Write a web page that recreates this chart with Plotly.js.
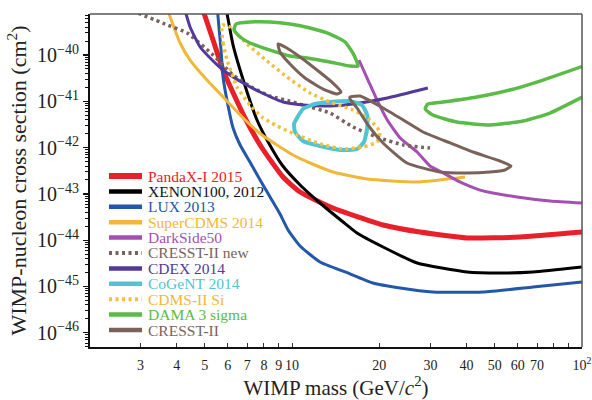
<!DOCTYPE html>
<html>
<head>
<meta charset="utf-8">
<script src="https://cdn.plot.ly/plotly-3.0.1.min.js"></script>
<style>html,body{margin:0;padding:0;background:#fff}#chart{width:592px;height:400px}</style>
</head>
<body>
<div id="chart"></div>
<script>
// ---- Data (WIMP mass in GeV/c^2, cross section in cm^2) ----
const seriesNames = ["PandaX-I 2015","XENON100, 2012","LUX 2013","SuperCDMS 2014","DarkSide50","CRESST-II new","CDEX 2014","CoGeNT 2014","CDMS-II Si","DAMA 3 sigma","CRESST-II"];

const pandaxMass  = [4.90, 5.34, 5.78, 6.36, 6.94, 7.88, 9.31, 10.66, 13.84, 20.6, 27.6, 40.1, 61.1, 100];
const pandaxSigma = [1.04e-39, 2.11e-40, 4.74e-41, 1.24e-41, 3.95e-42, 9.80e-43, 2.32e-43, 1.10e-43, 4.96e-44, 2.13e-44, 1.50e-44, 1.12e-44, 1.17e-44, 1.50e-44];

const xenonMass  = [5.92, 6.26, 6.62, 7.05, 7.57, 8.27, 9.24, 10.66, 12.49, 15.0, 16.75, 20.6, 27.0, 40.1, 52.1, 67.8, 100];
const xenonSigma = [1.04e-39, 1.64e-40, 4.74e-41, 1.37e-41, 3.95e-42, 1.32e-42, 4.21e-43, 1.56e-43, 6.36e-44, 2.47e-44, 1.43e-44, 7.13e-45, 3.22e-45, 2.06e-45, 1.96e-45, 2.06e-45, 2.64e-45];

const luxMass  = [5.52, 5.69, 5.78, 6.01, 6.26, 6.62, 7.16, 7.76, 8.40, 9.09, 9.69, 10.66, 12.49, 15.24, 19.01, 23.6, 30.6, 45.6, 67.8, 100];
const luxSigma = [1.04e-39, 1.28e-40, 3.35e-41, 8.32e-42, 2.65e-42, 1.14e-42, 4.89e-43, 2.00e-43, 8.57e-44, 3.68e-44, 1.66e-44, 7.50e-45, 3.38e-45, 2.06e-45, 1.19e-45, 9.29e-46, 7.61e-46, 7.61e-46, 9.75e-46, 1.25e-45];

const supercdmsMass  = [3.70, 4.11, 4.45, 5.09, 6.01, 6.89, 7.88, 8.87, 10.08, 11.54, 13.84, 18.16, 27.0, 39.5];
const supercdmsSigma = [1.04e-39, 1.82e-40, 7.80e-41, 2.88e-41, 9.66e-42, 3.95e-42, 1.87e-42, 1.14e-42, 6.92e-43, 4.65e-43, 2.97e-43, 2.10e-43, 1.81e-43, 2.32e-43];

const darksideMass  = [17.02, 18.28, 19.63, 21.3, 23.6, 27.0, 29.9, 33.2, 37.9, 44.5, 59.7, 77.6, 100];
const darksideSigma = [7.80e-41, 2.88e-41, 1.07e-41, 3.95e-42, 1.61e-42, 8.04e-43, 4.01e-43, 2.83e-43, 1.81e-43, 1.21e-43, 8.57e-44, 7.03e-44, 6.36e-44];

const cresstNewMass  = [2.95, 3.65, 4.35, 5.34, 6.26, 7.34, 8.40, 9.84, 10.91, 13.52, 16.22, 19.63, 24.2, 29.9];
const cresstNewSigma = [8.0e-40, 4.67e-40, 2.99e-40, 1.0e-40, 3.70e-41, 1.94e-41, 1.30e-41, 1.01e-41, 8.32e-42, 5.59e-42, 2.79e-42, 1.69e-42, 1.14e-42, 9.80e-43];

const cdexMass  = [4.28, 4.45, 4.82, 5.30, 5.78, 6.78, 7.76, 9.31, 10.91, 13.52, 16.22, 21.3, 29.4];
const cdexSigma = [9.0e-40, 4.03e-40, 1.49e-40, 7.80e-41, 4.74e-41, 2.48e-41, 1.59e-41, 9.66e-42, 8.32e-42, 7.91e-42, 8.75e-42, 1.18e-41, 1.94e-41];

const cogentMass  = [10.40, 10.91, 12.0, 13.52, 15.85, 17.42, 18.16, 18.16, 17.70, 16.75, 14.64, 12.49, 10.91, 10.24, 10.16, 10.40];
const cogentSigma = [4.36e-42, 6.82e-42, 8.75e-42, 9.66e-42, 1.01e-41, 8.32e-42, 5.06e-42, 2.65e-42, 1.32e-42, 9.33e-43, 8.88e-43, 1.08e-42, 1.39e-42, 2.17e-42, 3.24e-42, 4.36e-42];

const cdmsSiMass  = [5.74, 5.78, 5.97, 6.46, 7.16, 7.88, 8.74, 9.84, 12.49, 15.0, 17.58, 19.63, 20.1, 18.58, 16.22, 13.52, 11.54, 9.61, 8.20, 7.00, 6.11, 5.74];
const cdmsSiSigma = [4.45e-40, 1.82e-40, 7.80e-41, 2.04e-41, 8.32e-42, 4.58e-42, 3.08e-42, 2.17e-42, 1.20e-42, 9.33e-43, 1.03e-42, 1.32e-42, 2.17e-42, 3.95e-42, 6.49e-42, 9.66e-42, 1.51e-41, 3.35e-41, 7.42e-41, 1.73e-40, 4.03e-40, 4.45e-40];

const damaLowMass  = [6.41, 7.16, 8.40, 9.84, 11.54, 13.52, 15.24, 16.22, 16.90, 15.85, 13.52, 11.27, 9.84, 8.40, 7.16, 6.62, 6.31, 6.41];
const damaLowSigma = [4.67e-40, 5.16e-40, 5.16e-40, 4.67e-40, 3.83e-40, 2.84e-40, 1.91e-40, 1.10e-40, 5.78e-41, 5.78e-41, 7.06e-41, 8.61e-41, 9.51e-41, 1.28e-40, 1.82e-40, 2.45e-40, 3.47e-40, 4.67e-40];
const damaHighMass  = [102, 73.4, 56.4, 43.4, 33.2, 29.4, 28.8, 30.6, 37.0, 48.2, 62.6, 77.6, 102];
const damaHighSigma = [5.9e-41, 2.88e-41, 1.75e-41, 1.24e-41, 9.66e-42, 8.75e-42, 6.82e-42, 5.06e-42, 3.57e-42, 3.08e-42, 3.76e-42, 5.59e-42, 1.30e-41];

const cresstLowMass  = [8.95, 9.46, 10.66, 12.19, 13.84, 14.76, 14.29, 12.79, 11.09, 9.84, 9.09, 8.95];
const cresstLowSigma = [1.73e-40, 1.49e-40, 9.06e-41, 4.74e-41, 2.48e-41, 1.59e-41, 1.44e-41, 1.84e-41, 3.19e-41, 6.39e-41, 1.16e-40, 1.73e-40];
const cresstHighMass  = [15.85, 17.15, 20.6, 24.5, 28.3, 35.1, 42.1, 52.1, 56.9, 54.2, 48.2, 40.1, 32.4, 24.9, 20.6, 18.28, 16.75, 15.85, 15.85];
const cresstHighSigma = [1.24e-41, 1.30e-41, 7.17e-42, 3.76e-42, 2.17e-42, 1.26e-42, 8.04e-43, 5.14e-43, 4.01e-43, 3.28e-43, 2.97e-43, 2.83e-43, 2.97e-43, 4.65e-43, 1.26e-42, 3.08e-42, 7.17e-42, 1.12e-41, 1.24e-41];

const xTickVals = [3, 4, 5, 6, 7, 8, 9, 10, 20, 30, 40, 50, 60, 70, 80, 90, 100];
const xTickText = ["3","4","5","6","7","8","9","10","20","30","40","50","60","70"," "," ","10<sup>2</sup>"];
const yTickVals = [1e-46, 1e-45, 1e-44, 1e-43, 1e-42, 1e-41, 1e-40];
const yTickText = ["10<sup>−46</sup>","10<sup>−45</sup>","10<sup>−44</sup>","10<sup>−43</sup>","10<sup>−42</sup>","10<sup>−41</sup>","10<sup>−40</sup>"];

// ---- Styles ----
const seriesColors = ["#e8202a","#000000","#2358a8","#f0b838","#a54fb3","#77625d","#52399a","#52c4d0","#f2c040","#5abb46","#7b6259"];
const textColors   = ["#e8202a","#111111","#2358a8","#f0b838","#a54fb3","#77625d","#52399a","#52c4d0","#f0b838","#5abb46","#7b6259"];
const lineWidths   = [5, 3, 3, 3, 3, 3.5, 3, 4, 3.5, 3.5, 3];
const legendWidths = [6, 4.5, 4.5, 4.5, 4.5, 4, 4.5, 4.5, 4, 4.5, 4.5];
const dashes       = ["solid","solid","solid","solid","solid","3px,3.5px","solid","solid","3px,3.5px","solid","solid"];

function tr(x, y, i) {
  return {
    type: "scatter", mode: "lines", x: x, y: y,
    name: seriesNames[i], showlegend: false,
    line: {color: seriesColors[i], width: lineWidths[i], dash: dashes[i], shape: "spline", smoothing: 0.5},
    hoverinfo: "skip"
  };
}

const traces = [
  tr(pandaxMass, pandaxSigma, 0),
  tr(xenonMass, xenonSigma, 1),
  tr(luxMass, luxSigma, 2),
  tr(supercdmsMass, supercdmsSigma, 3),
  tr(darksideMass, darksideSigma, 4),
  tr(cresstNewMass, cresstNewSigma, 5),
  tr(cdexMass, cdexSigma, 6),
  tr(cogentMass, cogentSigma, 7),
  tr(cdmsSiMass, cdmsSiSigma, 8),
  tr(damaLowMass, damaLowSigma, 9),
  tr(damaHighMass, damaHighSigma, 9),
  tr(cresstLowMass, cresstLowSigma, 10),
  tr(cresstHighMass, cresstHighSigma, 10)
];

// ---- Compact legend (paper coordinates of the plot area) ----
const plotL = 90, plotT = 14, plotW = 492, plotH = 333;
const legTop = 176, legStep = 15.4, legX0 = 109, legX1 = 142, legTextX = 146;
const shapes = [
  {type: "line", xref: "paper", yref: "paper", x0: 0, x1: 1, y0: 1, y1: 1, line: {color: "#555", width: 1.5}},
  {type: "line", xref: "paper", yref: "paper", x0: 1, x1: 1, y0: 0, y1: 1, line: {color: "#555", width: 1.5}}
];
const annotations = [];
seriesNames.forEach(function (name, i) {
  const py = legTop + legStep * i;
  const yp = (plotT + plotH - py) / plotH;
  shapes.push({
    type: "line", xref: "paper", yref: "paper",
    x0: (legX0 - plotL) / plotW, x1: (legX1 - plotL) / plotW, y0: yp, y1: yp,
    line: {color: seriesColors[i], width: legendWidths[i], dash: dashes[i]}
  });
  annotations.push({
    xref: "paper", yref: "paper", x: (legTextX - plotL) / plotW, y: yp,
    xanchor: "left", yanchor: "middle", showarrow: false,
    text: name, font: {family: "Liberation Serif, serif", size: 15.5, color: textColors[i]}
  });
});

const serif = "Liberation Serif, Times New Roman, serif";
const layout = {
  width: 592, height: 400,
  margin: {l: plotL, r: 10, t: plotT, b: 53},
  paper_bgcolor: "#ffffff", plot_bgcolor: "#ffffff",
  font: {family: serif, color: "#222"},
  showlegend: false,
  xaxis: {
    type: "log", range: [Math.log10(2.01), 2],
    tickmode: "array", tickvals: xTickVals, ticktext: xTickText,
    ticks: "inside", ticklen: 4, tickwidth: 1, tickcolor: "#333",
    ticklabelstandoff: 4,
    showgrid: false, zeroline: false,
    showline: true, linecolor: "#111", linewidth: 2,
    tickfont: {family: serif, size: 14, color: "#222"},
    title: {text: "WIMP mass (GeV/<i>c</i><sup>2</sup>)", font: {family: serif, size: 21, color: "#222"}, standoff: 15}
  },
  yaxis: {
    type: "log", range: [-46.307, -39.114],
    tickmode: "array", tickvals: yTickVals, ticktext: yTickText,
    ticks: "outside", ticklen: 5, tickwidth: 1.2, tickcolor: "#111",
    minor: {tickmode: "linear", dtick: "D1", ticks: "outside", ticklen: 3, tickcolor: "#111", tickwidth: 1, showgrid: false},
    showgrid: false, zeroline: false,
    showline: true, linecolor: "#111", linewidth: 2,
    tickfont: {family: serif, size: 20, color: "#222"},
    title: {text: "WIMP-nucleon cross section (cm<sup>2</sup>)", font: {family: serif, size: 22, color: "#222"}, standoff: 4}
  },
  shapes: shapes,
  annotations: annotations
};

Plotly.newPlot("chart", traces, layout, {displayModeBar: false, staticPlot: true});
</script>
</body>
</html>
